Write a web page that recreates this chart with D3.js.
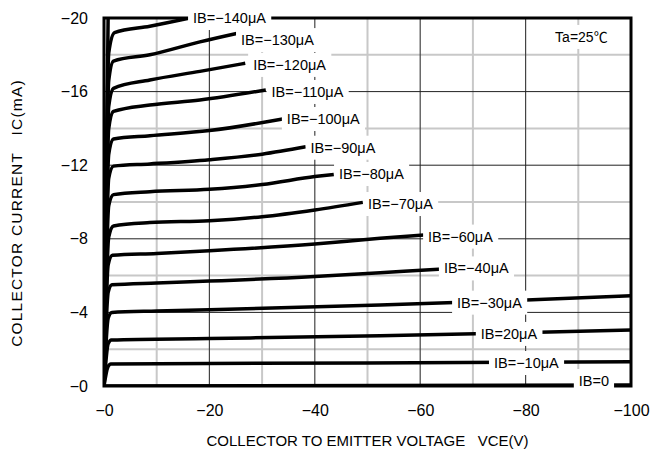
<!DOCTYPE html>
<html>
<head>
<meta charset="utf-8">
<script src="https://cdnjs.cloudflare.com/ajax/libs/d3/7.8.5/d3.min.js"></script>
<style>
  body { margin: 0; background: #fff; }
  text { font-family: 'Liberation Sans', Arial, 'Noto Sans CJK JP', sans-serif; fill: #000; }
</style>
</head>
<body>
<div id="chart"></div>
<script>
  // Ic-Vce output curves: [VCE (V), IC (mA)]
  var ib150 = [[0, 0], [-0.8, -20.5], [-1.5, -22.5]];
  var ib140 = [[0, 0], [-0.9, -18.1], [-2.0, -19.2], [-8.7, -19.55], [-16.3, -20.0]];
  var ib130 = [[0, 0], [-0.9, -16.6], [-1.8, -17.66], [-8.7, -18.0], [-18.2, -18.7], [-25.4, -19.17]];
  var ib120 = [[0, 0], [-0.9, -15.2], [-1.8, -16.18], [-8.7, -16.63], [-18.2, -17.1], [-26.8, -17.54]];
  var ib110 = [[0, 0], [-0.9, -14.0], [-1.8, -14.92], [-8.7, -15.27], [-18.2, -15.54], [-30.7, -16.09]];
  var ib100 = [[0, 0], [-0.9, -12.6], [-1.8, -13.42], [-8.7, -13.6], [-20, -13.88], [-33.9, -14.51]];
  var ib90 = [[0, 0], [-0.9, -11.3], [-1.8, -11.95], [-8.7, -12.07], [-20, -12.3], [-30, -12.6], [-38.3, -13.0]];
  var ib80 = [[0, 0], [-0.9, -9.8], [-1.8, -10.4], [-8.7, -10.56], [-20, -10.69], [-30, -10.95], [-40, -11.38], [-43.6, -11.5]];
  var ib70 = [[0, 0], [-0.9, -8.1], [-1.8, -8.7], [-8.7, -8.88], [-20, -8.98], [-30, -9.2], [-40, -9.57], [-49.1, -9.98]];
  var ib60 = [[0, 0], [-0.8, -6.6], [-1.6, -7.1], [-10, -7.2], [-20, -7.35], [-40, -7.72], [-52.4, -8.03], [-60.7, -8.2]];
  var ib40 = [[0, 0], [-0.8, -5.1], [-1.5, -5.5], [-10, -5.6], [-20, -5.7], [-40, -5.95], [-52.4, -6.16], [-64.3, -6.36]];
  var ib30 = [[0, 0], [-0.8, -3.7], [-1.5, -4.0], [-10, -4.08], [-20, -4.15], [-52.4, -4.4], [-75, -4.62], [-100, -4.9]];
  var ib20 = [[0, 0], [-0.8, -2.3], [-1.4, -2.5], [-20, -2.58], [-52.4, -2.73], [-75, -2.87], [-100, -3.04]];
  var ib10 = [[0, 0], [-0.76, -1.05], [-1.3, -1.2], [-50, -1.25], [-100, -1.32]];
  var ib0 = [[0, 0], [-100, -0.05]];

  var series = [ib150, ib140, ib130, ib120, ib110, ib100, ib90, ib80, ib70, ib60, ib40, ib30, ib20, ib10, ib0];

  var curveLabels = ['IB=−140μA', 'IB=−130μA', 'IB=−120μA', 'IB=−110μA', 'IB=−100μA', 'IB=−90μA',
    'IB=−80μA', 'IB=−70μA', 'IB=−60μA', 'IB=−40μA', 'IB=−30μA', 'IB=20μA', 'IB=−10μA', 'IB=0'];
  // where each label starts, [VCE, IC]
  var labelAt = [[-16.9, -20.0], [-26.0, -18.8], [-28.3, -17.45], [-31.8, -15.98], [-34.7, -14.51], [-39.2, -12.95],
    [-44.6, -11.52], [-50.1, -9.89], [-61.5, -8.12], [-64.5, -6.39], [-67.0, -4.53], [-71.5, -2.83], [-74.0, -1.25], [-90.1, -0.27]];

  var xTicks = [0, -20, -40, -60, -80, -100];
  var yTicks = [0, -4, -8, -12, -16, -20];
  var xMinor = [-10, -30, -50, -70, -90];
  var yMinor = [-2, -6, -10, -14, -18];

  var width = 657,
    height = 454,
    pLeft = 104, pRight = 631, pTop = 18, pBottom = 386;

  var x = d3.scaleLinear().domain([0, -100]).range([pLeft, pRight]);
  var y = d3.scaleLinear().domain([0, -20]).range([pBottom, pTop]);

  var fmt = function(d) { return '−' + Math.abs(d); };

  var svg = d3.select('#chart')
    .append('svg')
    .attr('width', width)
    .attr('height', height);

  svg.append('defs').append('clipPath')
    .attr('id', 'plot')
    .append('rect')
    .attr('x', pLeft).attr('y', pTop)
    .attr('width', pRight - pLeft).attr('height', pBottom - pTop);

  //grid
  var grid = svg.append('g');
  grid.selectAll('.vminor').data(xMinor).enter().append('line')
    .attr('x1', x).attr('x2', x).attr('y1', pTop).attr('y2', pBottom)
    .attr('stroke', '#c8c8c8').attr('stroke-width', 2);
  grid.selectAll('.hminor').data(yMinor).enter().append('line')
    .attr('y1', y).attr('y2', y).attr('x1', pLeft).attr('x2', pRight)
    .attr('stroke', '#c8c8c8').attr('stroke-width', 2);
  grid.selectAll('.vmajor').data(xTicks.slice(1, -1)).enter().append('line')
    .attr('x1', x).attr('x2', x).attr('y1', pTop).attr('y2', pBottom)
    .attr('stroke', '#444').attr('stroke-width', 1.2);
  grid.selectAll('.hmajor').data(yTicks.slice(1, -1)).enter().append('line')
    .attr('y1', y).attr('y2', y).attr('x1', pLeft).attr('x2', pRight)
    .attr('stroke', '#222').attr('stroke-width', 1);

  //frame
  svg.append('rect')
    .attr('x', pLeft).attr('y', pTop)
    .attr('width', pRight - pLeft).attr('height', pBottom - pTop)
    .attr('fill', 'none').attr('stroke', '#000').attr('stroke-width', 3);

  //axes
  var yAxis = svg.append('g')
    .attr('transform', 'translate(' + pLeft + ',0)')
    .call(d3.axisLeft(y).tickValues(yTicks).tickFormat(fmt).tickSize(0).tickPadding(16));
  var xAxis = svg.append('g')
    .attr('transform', 'translate(0,' + pBottom + ')')
    .call(d3.axisBottom(x).tickValues(xTicks).tickFormat(fmt).tickSize(0).tickPadding(19));
  [yAxis, xAxis].forEach(function(a) {
    a.select('.domain').remove();
    a.selectAll('text').style('font-size', '16px').attr('fill', '#000')
      .style('font-family', "'Liberation Sans', Arial, sans-serif");
  });

  //curves
  var line = d3.line()
    .x(function(d) { return x(d[0]); })
    .y(function(d) { return y(d[1]); })
    .curve(d3.curveMonotoneX);

  svg.append('g')
    .attr('clip-path', 'url(#plot)')
    .selectAll('path')
    .data(series)
    .enter()
    .append('path')
    .attr('d', line)
    .attr('fill', 'none')
    .attr('stroke', '#000')
    .attr('stroke-width', 3.5)
    .attr('stroke-linejoin', 'round');

  //labels with white boxes
  function boxLabel(txt, px, py, size) {
    var g = svg.append('g');
    var rect = g.append('rect').attr('fill', '#fff');
    var t = g.append('text')
      .attr('x', px)
      .attr('y', py)
      .attr('dy', '0.35em')
      .style('font-size', size + 'px')
      .text(txt);
    var bb = t.node().getBBox();
    rect.attr('x', bb.x - 5).attr('width', bb.width + 10)
      .attr('y', py - 12).attr('height', 24);
  }

  curveLabels.forEach(function(lbl, i) {
    boxLabel(lbl, x(labelAt[i][0]), y(labelAt[i][1]), 14.5);
  });
  boxLabel('Ta=25℃', x(-85.6), y(-18.97), 14);

  //axis titles
  svg.append('text')
    .attr('x', (pLeft + pRight) / 2)
    .attr('y', 446)
    .attr('text-anchor', 'middle')
    .style('font-size', '15px')
    .text('COLLECTOR TO EMITTER VOLTAGE\u00a0\u00a0 VCE(V)');

  svg.append('text')
    .attr('transform', 'translate(22,213) rotate(-90)')
    .attr('text-anchor', 'middle')
    .style('font-size', '15.5px')
    .style('letter-spacing', '1.2px')
    .text('COLLECTOR CURRENT\u00a0\u00a0 IC(mA)');
</script>
</body>
</html>
